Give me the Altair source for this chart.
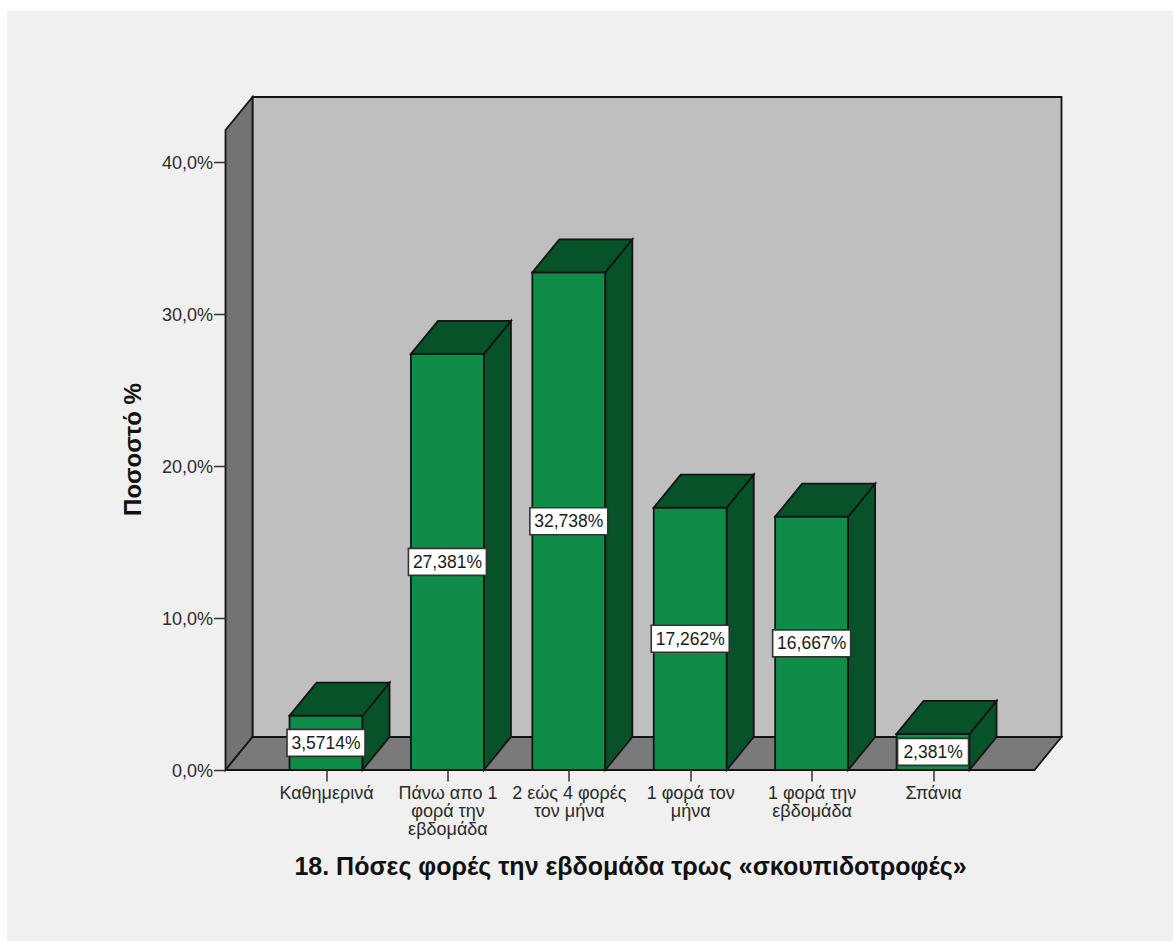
import altair as alt
import pandas as pd

categories = ["Καθημερινά", "Πάνω απο 1\nφορά την\nεβδομάδα", "2 εώς 4 φορές\nτον μήνα",
              "1 φορά τον\nμήνα", "1 φορά την\nεβδομάδα", "Σπάνια"]
values = [3.5714, 27.381, 32.738, 17.262, 16.667, 2.381]
value_labels = ["3,5714%", "27,381%", "32,738%", "17,262%", "16,667%", "2,381%"]
y_ticks = [0, 10, 20, 30, 40]

# Scale geometry of the pseudo-3D box, in data units
PLOT_W, PLOT_H = 836, 673
X_MIN, X_MAX = -0.828, 6.058
Y_MAX = 44.28
px_x = (X_MAX - X_MIN) / PLOT_W
px_y = Y_MAX / PLOT_H
DX, DY = 27 * px_x, 33 * px_y
HALF_BAR = 36.5 * px_x
WALL_TOP = Y_MAX - DY

FRONT, DARK = "#0f8c48", "#075228"
BACK_WALL, SIDE_WALL, FLOOR = "#bfbfbf", "#737373", "#7a7a7a"
EDGE = "#141414"


def face(rows, name, fill):
    return [dict(face=name, fill=fill, x=a, y=b, y2=c) for a, b, c in rows]


walls = (
    face([(X_MIN + DX, DY, Y_MAX), (X_MAX, DY, Y_MAX)], "back", BACK_WALL)
    + face([(X_MIN, 0, WALL_TOP), (X_MIN + DX, DY, Y_MAX)], "left", SIDE_WALL)
    + face([(X_MIN, 0, 0), (X_MIN + DX, 0, DY), (X_MAX - DX, 0, DY), (X_MAX, DY, DY)], "floor", FLOOR)
)

bars, boxes = [], []
for i, (v, lab) in enumerate(zip(values, value_labels)):
    x0, x1 = i - HALF_BAR, i + HALF_BAR
    bars += face([(x0, 0, v), (x1, 0, v)], f"front{i}", FRONT)
    bars += face([(x1, 0, v), (x1 + DX, DY, v + DY)], f"side{i}", DARK)
    bars += face([(x0, v, v), (x0 + DX, v, v + DY), (x1, v, v + DY), (x1 + DX, v + DY, v + DY)], f"top{i}", DARK)
    half_w = (35.5 if len(lab) < 7 else 39) * px_x
    half_h = 13.5 * px_y
    boxes.append(dict(i=i, x=i - half_w, x2=i + half_w, y=v / 2 - half_h, y2=v / 2 + half_h, mid=v / 2, label=lab))

label_array = "[" + ",".join('"' + c.replace("\n", "|") + '"' for c in categories) + "]"
x_scale = alt.Scale(domain=[X_MIN, X_MAX], nice=False, zero=False)
y_scale = alt.Scale(domain=[0, Y_MAX], nice=False, zero=True)
FONT = "Liberation Sans"
TEXT = "#2b2b2b"

x_axis = alt.Axis(
    values=list(range(len(categories))),
    labelExpr=f"split({label_array}[datum.value], '|')",
    grid=False, domain=False, tickColor="#333333", tickSize=11, tickWidth=1.5,
    labelFont=FONT, labelFontSize=18, labelColor=TEXT, labelPadding=3, labelLineHeight=18,
    labelOverlap=False, labelFlush=False, labelBaseline="top",
    title="18. Πόσες φορές την εβδομάδα τρως «σκουπιδοτροφές»",
    titleFont=FONT, titleFontSize=25, titleFontWeight="bold", titleColor="#111111",
    titleX=404.5, titleY=96, titleBaseline="middle", titleAlign="center", zindex=1,
)
y_axis = alt.Axis(
    values=y_ticks,
    labelExpr="replace(format(datum.value, '.1f'), '.', ',') + '%'",
    grid=False, domain=False, tickColor="#333333", tickSize=12, tickWidth=1.5,
    labelFont=FONT, labelFontSize=18, labelColor=TEXT, labelPadding=1, labelOffset=1.5,
    title="Ποσοστό %",
    titleFont=FONT, titleFontSize=24, titleFontWeight="bold", titleColor="#111111",
    titleX=-92, titleY=352, titleAngle=270, titleBaseline="middle", titleAlign="center", zindex=1,
)

panel = alt.Chart(pd.DataFrame({"k": [0]})).mark_rect(color="#f0f0f0").encode(
    x=alt.value(-218.5), x2=alt.value(947.5), y=alt.value(-86), y2=alt.value(844)
)


def solids(rows):
    return alt.Chart(pd.DataFrame(rows)).mark_area(stroke=EDGE, strokeWidth=1.8, strokeJoin="miter").encode(
        x=alt.X("x:Q", scale=x_scale, axis=x_axis),
        y=alt.Y("y:Q", scale=y_scale, axis=y_axis, stack=None),
        y2="y2:Q",
        fill=alt.Fill("fill:N", scale=None),
        detail="face:N",
    )


box_df = pd.DataFrame(boxes)
label_boxes = alt.Chart(box_df).mark_rect(fill="white", stroke="#333333", strokeWidth=1.6).encode(
    x=alt.X("x:Q", scale=x_scale, axis=x_axis),
    x2="x2:Q",
    y=alt.Y("y:Q", scale=y_scale, axis=y_axis),
    y2="y2:Q",
)
label_text = alt.Chart(box_df).mark_text(font=FONT, fontSize=17.5, color="#1a1a1a", baseline="middle", dy=1).encode(
    x=alt.X("i:Q", scale=x_scale, axis=x_axis),
    y=alt.Y("mid:Q", scale=y_scale, axis=y_axis),
    text="label:N",
)

chart = alt.layer(
    panel, solids(walls), solids(bars), label_boxes, label_text
).properties(
    width=PLOT_W, height=PLOT_H,
    padding={"left": 225.5, "top": 97, "right": 111.5, "bottom": 171},
    autosize=alt.AutoSizeParams(type="none"),
    background="white",
).configure_view(stroke=None)

chart.save("out.html", embed_options={"renderer": "svg", "actions": False})
